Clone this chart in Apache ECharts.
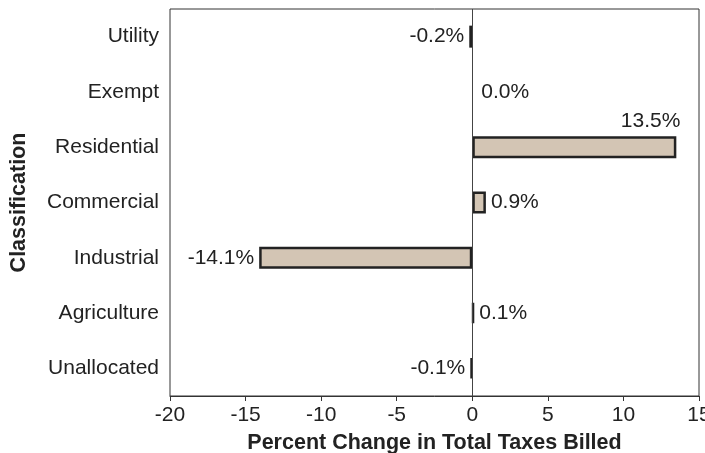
<!DOCTYPE html>
<html>
<head>
<meta charset="utf-8">
<script src="https://cdn.jsdelivr.net/npm/echarts@6/dist/echarts.min.js"></script>
<style>
html,body{margin:0;padding:0;background:#fff;}
#chart{width:705px;height:453px;}
</style>
</head>
<body>
<div id="chart"></div>
<script>
var categories = ['Utility', 'Exempt', 'Residential', 'Commercial', 'Industrial', 'Agriculture', 'Unallocated'];
var values = [-0.2, 0.0, 13.5, 0.9, -14.1, 0.1, -0.1];
var xTicks = [-20, -15, -10, -5, 0, 5, 10, 15];

var FONT = "'Liberation Sans', Arial, Helvetica, sans-serif";
var TXT = '#222';

var seriesData = values.map(function (v, i) {
  var item = { value: v, label: {} };
  if (v === 0) {
    item.itemStyle = { borderWidth: 0 };
    item.label.position = 'right';
    item.label.distance = 9;
  } else if (v < 0) {
    item.label.position = 'left';
    item.label.distance = 5;
  } else {
    item.label.position = 'right';
    item.label.distance = 5;
  }
  if (categories[i] === 'Residential') {
    item.label = {
      position: ['100%', 0],
      align: 'right',
      verticalAlign: 'bottom',
      offset: [4, -5]
    };
  }
  return item;
});

var chart = echarts.init(document.getElementById('chart'));
chart.setOption({
  animation: false,
  backgroundColor: '#fff',
  grid: {
    left: 170, right: 6, top: 9, bottom: 57,
    show: true, borderColor: '#333', borderWidth: 1,
    containLabel: false,
    outerBoundsMode: 'none'
  },
  xAxis: {
    type: 'value',
    min: xTicks[0],
    max: xTicks[xTicks.length - 1],
    interval: 5,
    name: 'Percent Change in Total Taxes Billed',
    nameLocation: 'middle',
    nameGap: 36,
    nameTextStyle: { fontFamily: FONT, fontSize: 21.5, fontWeight: 'bold', color: TXT },
    axisLine: { show: true, lineStyle: { color: '#333', width: 1 } },
    axisTick: { show: true, length: 5, lineStyle: { color: '#333' } },
    axisLabel: { fontFamily: FONT, fontSize: 21, color: TXT, margin: 9 },
    splitLine: { show: false }
  },
  yAxis: {
    type: 'category',
    data: categories,
    inverse: true,
    name: 'Classification',
    nameLocation: 'middle',
    nameGap: 140,
    nameTextStyle: { fontFamily: FONT, fontSize: 21.5, fontWeight: 'bold', color: TXT },
    axisLine: { show: false },
    axisTick: { show: false },
    axisLabel: { fontFamily: FONT, fontSize: 21, color: TXT, margin: 11 },
    splitLine: { show: false }
  },
  series: [{
    type: 'bar',
    data: seriesData,
    barWidth: 22,
    itemStyle: { color: '#d3c5b4', borderColor: '#222', borderWidth: 2.5 },
    label: {
      show: true,
      fontFamily: FONT,
      fontSize: 21,
      color: TXT,
      formatter: function (p) { return p.value.toFixed(1) + '%'; }
    },
    markLine: {
      silent: true,
      symbol: 'none',
      label: { show: false },
      lineStyle: { color: '#444', width: 1, type: 'solid' },
      data: [{ xAxis: 0 }]
    }
  }]
});
</script>
</body>
</html>
